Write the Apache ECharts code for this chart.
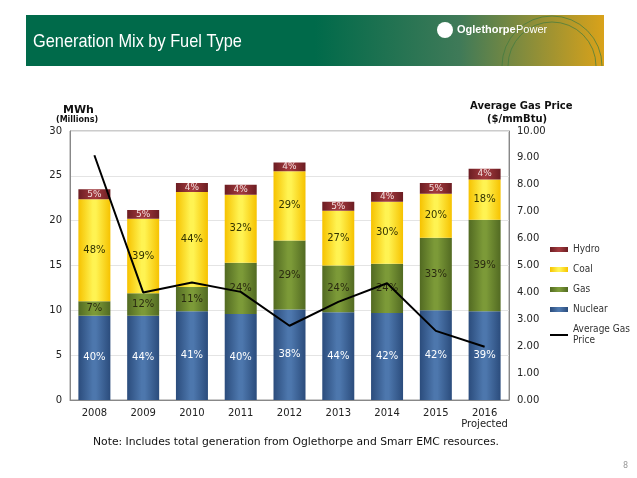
<!DOCTYPE html>
<html>
<head>
<meta charset="utf-8">
<script src="https://cdn.jsdelivr.net/npm/echarts@6/dist/echarts.min.js"></script>
<style>
html,body{margin:0;padding:0;background:#fff;}
#chart{width:637px;height:478px;}
</style>
</head>
<body>
<div id="chart"></div>
<script>
var years = ['2008','2009','2010','2011','2012','2013','2014','2015','2016\nProjected'];
var nuclear = [9.4, 9.4, 9.9, 9.6, 10.1, 9.8, 9.7, 10.0, 9.9];
var gas     = [1.6, 2.5, 2.7, 5.7, 7.7, 5.2, 5.5, 8.1, 10.2];
var coal    = [11.4, 8.3, 10.6, 7.6, 7.7, 6.1, 6.9, 4.9, 4.5];
var hydro   = [1.1, 1.0, 1.0, 1.1, 1.0, 1.0, 1.1, 1.2, 1.2];
var gasPrice = [9.1, 4.0, 4.37, 4.02, 2.76, 3.65, 4.34, 2.57, 1.98];
var nuclearPct = [40, 44, 41, 40, 38, 44, 42, 42, 39];
var gasPct     = [7, 12, 11, 24, 29, 24, 24, 33, 39];
var coalPct    = [48, 39, 44, 32, 29, 27, 30, 20, 18];
var hydroPct   = [5, 5, 4, 4, 4, 5, 4, 5, 4];
var leftTicks = [0, 5, 10, 15, 20, 25, 30];
var rightTicks = [0, 1, 2, 3, 4, 5, 6, 7, 8, 9, 10];

var FONT = 'DejaVu Sans';
function grad(edge, mid) {
  return new echarts.graphic.LinearGradient(0, 0, 1, 0, [
    {offset: 0, color: edge}, {offset: 0.45, color: mid}, {offset: 0.55, color: mid}, {offset: 1, color: edge}
  ]);
}
function barSeries(name, data, pct, edge, mid, labelColor, fs) {
  return {
    name: name, type: 'bar', stack: 'gen', data: data, barWidth: 32,
    itemStyle: {color: grad(edge, mid)},
    label: {show: true, position: 'inside', fontFamily: FONT, fontSize: fs, color: labelColor,
      formatter: function (p) { return pct[p.dataIndex] + '%'; }},
    emphasis: {disabled: true}
  };
}

var chart = echarts.init(document.getElementById('chart'), null, {renderer: 'canvas'});
chart.setOption({
  animation: false,
  backgroundColor: '#fff',
  grid: {left: 70, right: 128, top: 131, bottom: 78, show: true, borderColor: '#999', borderWidth: 1},
  legend: {
    orient: 'vertical', left: 544, top: 239, itemGap: 9, itemWidth: 18, itemHeight: 5,
    textStyle: {fontFamily: '"DejaVu Sans Condensed", "Liberation Sans"', fontSize: 10, color: '#333', lineHeight: 11},
    data: [
      {name: 'Hydro', icon: 'rect'}, {name: 'Coal', icon: 'rect'}, {name: 'Gas', icon: 'rect'},
      {name: 'Nuclear', icon: 'rect'}, {name: 'Average Gas Price', itemStyle: {opacity: 0}}
    ],
    formatter: function (n) { return n === 'Average Gas Price' ? 'Average Gas\nPrice' : n; }
  },
  xAxis: {
    type: 'category', data: years,
    axisLine: {lineStyle: {color: '#888'}}, axisTick: {show: false},
    axisLabel: {interval: 0, fontFamily: FONT, fontSize: 10, color: '#222', margin: 8, lineHeight: 11}
  },
  yAxis: [
    {type: 'value', min: 0, max: 30, interval: 5,
     axisLine: {show: true, lineStyle: {color: '#888'}}, axisTick: {show: false},
     axisLabel: {fontFamily: FONT, fontSize: 10, color: '#222', margin: 8},
     splitLine: {lineStyle: {color: '#e4e4e4'}}},
    {type: 'value', min: 0, max: 10, interval: 1,
     axisLine: {show: true, lineStyle: {color: '#888'}}, axisTick: {show: false},
     axisLabel: {fontFamily: FONT, fontSize: 10, color: '#222', margin: 8,
       formatter: function (v) { return v.toFixed(2); }},
     splitLine: {show: false}}
  ],
  series: [
    barSeries('Nuclear', nuclear, nuclearPct, '#2b4c7c', '#4d77ad', '#ffffff', 10),
    barSeries('Gas', gas, gasPct, '#526a22', '#7c9a38', '#2a2a10', 10),
    barSeries('Coal', coal, coalPct, '#f6c200', '#fff352', '#333300', 10),
    barSeries('Hydro', hydro, hydroPct, '#6c1d22', '#a0393d', '#f2dede', 9),
    {name: 'Average Gas Price', type: 'line', yAxisIndex: 1, data: gasPrice,
     symbol: 'none', lineStyle: {color: '#000', width: 2}, itemStyle: {color: '#000'}, z: 5,
     emphasis: {disabled: true}}
  ],
  graphic: [
    {type: 'rect', left: 26, top: 15, shape: {width: 578, height: 51}, silent: true,
     style: {fill: new echarts.graphic.LinearGradient(0, 0, 1, 0, [
       {offset: 0, color: '#006a4a'}, {offset: 0.5, color: '#006a4a'},
       {offset: 0.75, color: '#3f7a58'}, {offset: 1, color: '#d9a21a'}])}},
    {type: 'arc', silent: true, shape: {cx: 552, cy: 66, r: 50, startAngle: Math.PI, endAngle: 2 * Math.PI},
     style: {stroke: '#3f7a40', lineWidth: 1, fill: null, opacity: 0.7}},
    {type: 'arc', silent: true, shape: {cx: 552, cy: 66, r: 44, startAngle: Math.PI, endAngle: 2 * Math.PI},
     style: {stroke: '#3f7a40', lineWidth: 1, fill: null, opacity: 0.7}},
    {type: 'text', x: 33, y: 32, scaleX: 0.86, silent: true,
     style: {text: 'Generation Mix by Fuel Type', fill: '#ffffff', font: '19px "Liberation Sans"'}},
    {type: 'circle', left: 437, top: 22, shape: {r: 8}, silent: true, style: {fill: '#ffffff'}},
    {type: 'text', left: 457, top: 24, silent: true,
     style: {text: 'Oglethorpe', fill: '#ffffff', font: 'bold 11px "Liberation Sans"'}},
    {type: 'text', left: 516, top: 24, silent: true,
     style: {text: 'Power', fill: '#ffffff', font: '11px "Liberation Sans"'}},
    {type: 'text', left: 63, top: 105, silent: true,
     style: {text: 'MWh', fill: '#111', font: 'bold 11px "DejaVu Sans"'}},
    {type: 'text', left: 56, top: 116, silent: true,
     style: {text: '(Millions)', fill: '#111', font: 'bold 8px "DejaVu Sans"'}},
    {type: 'text', left: 470, top: 101, silent: true,
     style: {text: 'Average Gas Price', fill: '#111', font: 'bold 10px "DejaVu Sans"'}},
    {type: 'text', left: 487, top: 114, silent: true,
     style: {text: '($/mmBtu)', fill: '#111', font: 'bold 10px "DejaVu Sans"'}},
    {type: 'text', x: 93, y: 437, scaleX: 0.98, silent: true,
     style: {text: 'Note: Includes total generation from Oglethorpe and Smarr EMC resources.', fill: '#111', font: '11px "DejaVu Sans"'}},
    {type: 'text', left: 623, top: 462, silent: true,
     style: {text: '8', fill: '#999', font: '8px "DejaVu Sans"'}}
  ]
});
</script>
</body>
</html>
